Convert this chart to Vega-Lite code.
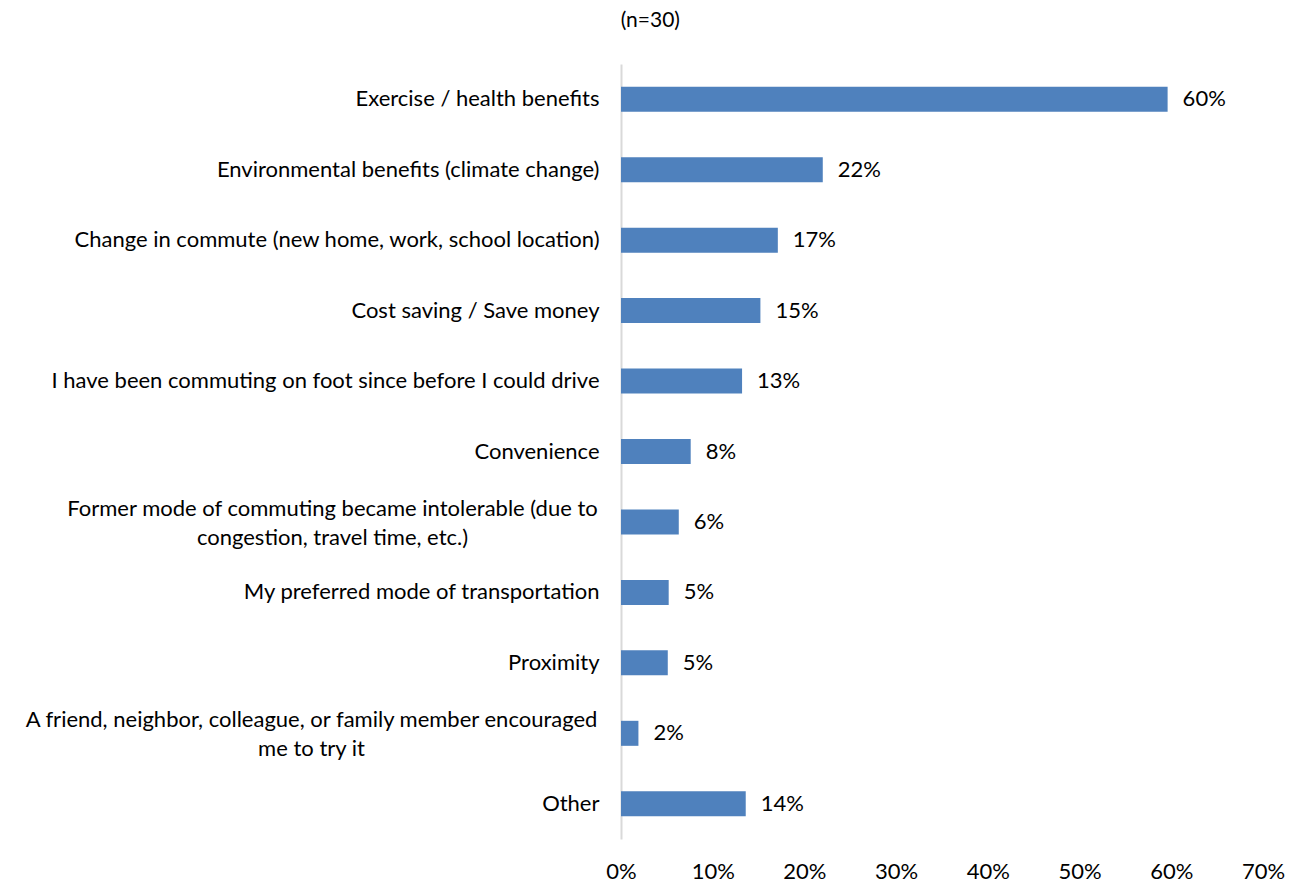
{
  "$schema": "https://vega.github.io/schema/vega-lite/v6.json",
  "width": 642,
  "height": 775,
  "padding": {"left": 24, "top": 10, "right": 5, "bottom": 0},
  "background": "white",
  "title": {"text": "(n=30)", "anchor": "middle", "frame": "bounds", "fontSize": 21, "font": "Lato", "fontWeight": "normal", "color": "#000000", "offset": 33, "dx": -4},
  "data": {"values": [
    {"reason": "Exercise / health benefits", "pct": 0.596},
    {"reason": "Environmental benefits (climate change)", "pct": 0.22},
    {"reason": "Change in commute (new home, work, school location)", "pct": 0.171},
    {"reason": "Cost saving / Save money", "pct": 0.152},
    {"reason": "I have been commuting on foot since before I could drive", "pct": 0.132},
    {"reason": "Convenience", "pct": 0.076},
    {"reason": "Former mode of commuting became intolerable (due to|congestion, travel time, etc.)", "pct": 0.063},
    {"reason": "My preferred mode of transportation", "pct": 0.052},
    {"reason": "Proximity", "pct": 0.051},
    {"reason": "A friend, neighbor, colleague, or family member encouraged|me to try it", "pct": 0.019},
    {"reason": "Other", "pct": 0.136}
  ]},
  "encoding": {
    "y": {
      "field": "reason", "type": "nominal", "sort": null,
      "scale": {"paddingInner": 0.645, "paddingOuter": 0.3225},
      "axis": {
        "title": null, "ticks": false, "domainColor": "#d9d9d9", "domainWidth": 2,
        "labelFont": "Lato", "labelFontSize": 22, "labelColor": "#000000",
        "labelLimit": 1000, "labelLineHeight": 29,
        "labelExpr": "split(datum.label, '|')",
        "labelAlign": {"condition": {"test": "indexof(datum.value, '|') >= 0", "value": "center"}, "value": "right"},
        "labelOffset": {"condition": {"test": "indexof(datum.value, '|') >= 0", "value": -13}, "value": 0},
        "labelPadding": {"condition": [
          {"test": "indexof(datum.value, 'Former') == 0", "value": 289},
          {"test": "indexof(datum.value, 'A friend') == 0", "value": 310}
        ], "value": 22}
      }
    },
    "x": {
      "field": "pct", "type": "quantitative",
      "scale": {"domain": [0, 0.7], "nice": false},
      "axis": {"title": null, "format": ".0%", "values": [0, 0.1, 0.2, 0.3, 0.4, 0.5, 0.6, 0.7], "grid": false, "domain": false, "ticks": false, "labelFont": "Lato", "labelFontSize": 22, "labelColor": "#000000", "labelPadding": 22, "labelFlush": false}
    }
  },
  "layer": [
    {"mark": {"type": "bar", "color": "#4f81bd"}},
    {"mark": {"type": "text", "align": "left", "dx": 15, "font": "Lato", "fontSize": 22, "color": "#000000"},
     "encoding": {"text": {"field": "pct", "type": "quantitative", "format": ".0%"}}}
  ],
  "config": {"view": {"stroke": null}}
}
